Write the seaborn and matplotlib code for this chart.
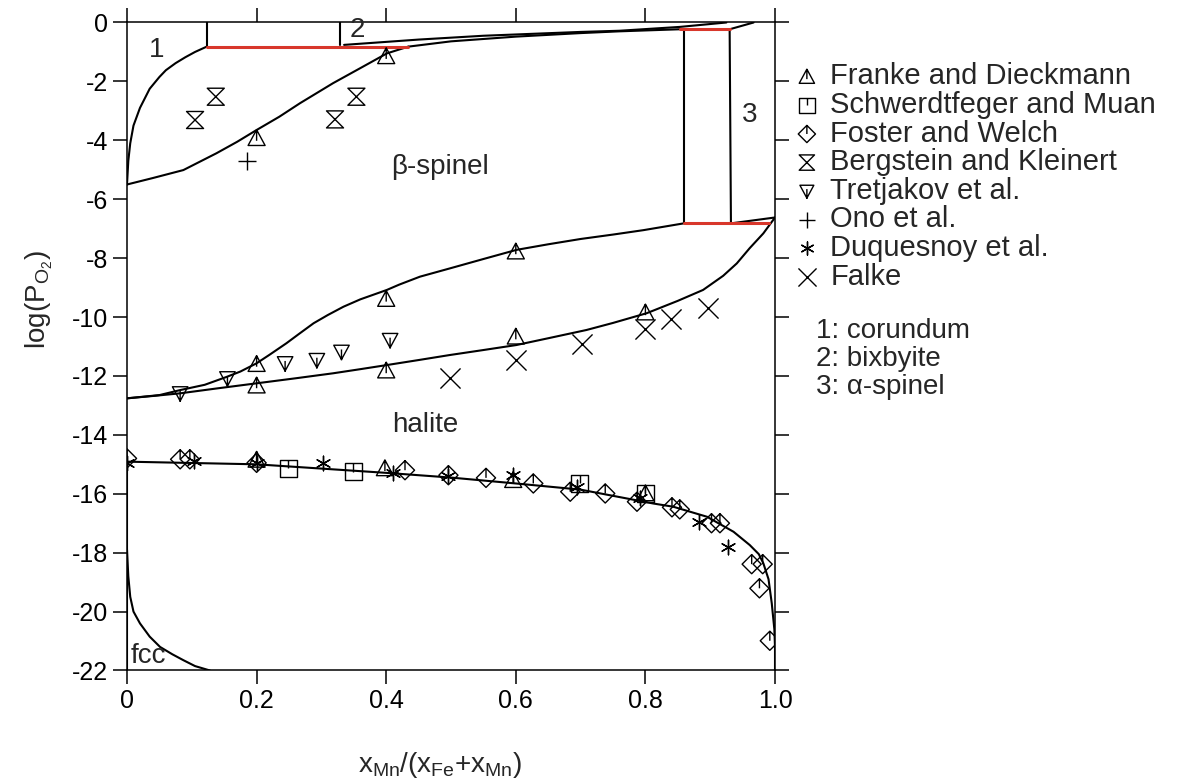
import matplotlib
matplotlib.use("Agg")
import matplotlib.pyplot as plt
import seaborn as sns
from matplotlib.path import Path

# ---- phase boundaries ----
# corundum / corundum+spinel boundary
cor_x = [0.0, 0.002, 0.005, 0.01, 0.02, 0.035, 0.05, 0.06, 0.075, 0.09, 0.105, 0.123]
cor_y = [-5.5, -4.7, -4.1, -3.5, -2.9, -2.25, -1.85, -1.62, -1.38, -1.18, -1.0, -0.82]
# spinel upper limit (low x part)
sp_lo_x = [0.0, 0.04, 0.087, 0.138, 0.17, 0.2, 0.235, 0.267, 0.318, 0.36, 0.401, 0.434]
sp_lo_y = [-5.5, -5.28, -5.01, -4.44, -4.05, -3.65, -3.2, -2.74, -2.06, -1.55, -1.05, -0.82]
# spinel upper limit (high x part)
sp_hi_x = [0.434, 0.5, 0.6, 0.7, 0.76, 0.853]
sp_hi_y = [-0.82, -0.64, -0.48, -0.36, -0.30, -0.23]
# bixbyite lower limit
bix_x = [0.335, 0.45, 0.55, 0.7, 0.76, 0.853, 0.925]
bix_y = [-0.76, -0.58, -0.45, -0.32, -0.28, -0.15, 0.0]
# small vertical / connecting lines
v1_x, v1_y = [0.123, 0.123], [-0.82, 0.0]
v2_x, v2_y = [0.329, 0.329], [0.0, -0.76]
v3_x, v3_y = [0.859, 0.859], [-0.23, -6.82]
v4_x, v4_y = [0.930, 0.932], [-0.23, -6.82]
c1_x, c1_y = [0.930, 0.967], [-0.23, 0.0]
c2_x, c2_y = [0.932, 1.0], [-6.82, -6.62]
# red three-phase tie lines
red1_x, red1_y = [0.123, 0.434], [-0.82, -0.82]
red2_x, red2_y = [0.853, 0.930], [-0.23, -0.23]
red3_x, red3_y = [0.859, 0.99], [-6.82, -6.82]
# spinel + halite two-phase region
up_x = [0.0, 0.05, 0.082, 0.12, 0.154, 0.175, 0.2, 0.22, 0.246, 0.265, 0.288, 0.31, 0.334, 0.36,
        0.401, 0.42, 0.452, 0.498, 0.55, 0.601, 0.65, 0.70, 0.75, 0.797, 0.859]
up_y = [-12.76, -12.65, -12.48, -12.3, -12.03, -11.85, -11.57, -11.28, -10.89, -10.58, -10.21, -9.93,
        -9.65, -9.4, -9.08, -8.9, -8.63, -8.35, -8.03, -7.72, -7.53, -7.35, -7.2, -7.05, -6.82]
lo_x = [1.0, 0.982, 0.961, 0.941, 0.92, 0.889, 0.85, 0.802, 0.75, 0.709, 0.65, 0.601, 0.55, 0.498,
        0.45, 0.401, 0.36, 0.318, 0.26, 0.2, 0.14, 0.082, 0.04, 0.0]
lo_y = [-6.62, -7.16, -7.66, -8.18, -8.6, -9.08, -9.45, -9.87, -10.2, -10.44, -10.72, -10.95, -11.12,
        -11.29, -11.46, -11.63, -11.77, -11.91, -12.08, -12.25, -12.42, -12.59, -12.68, -12.76]
# halite lower limit
hal_x = [0.0, 0.0, 0.2, 0.4, 0.5, 0.6, 0.7, 0.812, 0.843, 0.895, 0.936, 0.961, 0.975, 0.982,
         0.99, 0.995, 0.999, 1.0, 1.0]
hal_y = [-22.0, -14.91, -15.0, -15.29, -15.45, -15.65, -15.86, -16.33, -16.44, -16.78, -17.29,
         -17.74, -18.05, -18.36, -18.9, -19.72, -20.6, -21.2, -22.0]
# fcc limit
fcc_x = [0.0, 0.002, 0.005, 0.01, 0.02, 0.035, 0.051, 0.07, 0.087, 0.105, 0.128]
fcc_y = [-17.9, -18.8, -19.5, -20.0, -20.4, -20.85, -21.2, -21.45, -21.65, -21.85, -22.0]

# ---- experimental points ----
franke_x = [0.4, 0.2, 0.4, 0.2, 0.2, 0.4, 0.6, 0.6, 0.8, 0.2, 0.398, 0.596, 0.8]
franke_y = [-1.15, -3.93, -9.39, -11.6, -12.33, -11.82, -7.78, -10.67, -9.85, -14.85, -15.14, -15.54, -15.99]
schw_x = [0.249, 0.349, 0.699, 0.8]
schw_y = [-15.14, -15.25, -15.65, -15.99]
foster_x = [0.0, 0.082, 0.097, 0.2, 0.429, 0.496, 0.554, 0.627, 0.684, 0.738, 0.787,
            0.841, 0.853, 0.902, 0.915, 0.964, 0.981, 0.976, 0.992]
foster_y = [-14.8, -14.83, -14.83, -14.95, -15.2, -15.37, -15.46, -15.65, -15.93, -15.99, -16.27,
            -16.46, -16.53, -17.0, -17.0, -18.39, -18.39, -19.21, -20.99]
berg_x = [0.105, 0.137, 0.321, 0.354]
berg_y = [-3.31, -2.52, -3.29, -2.52]
tret_x = [0.082, 0.155, 0.244, 0.293, 0.331, 0.406]
tret_y = [-12.59, -12.08, -11.57, -11.46, -11.18, -10.78]
ono_x = [0.185]
ono_y = [-4.70]
duq_x = [0.0, 0.104, 0.2, 0.303, 0.41, 0.496, 0.596, 0.694, 0.792, 0.882, 0.928]
duq_y = [-14.95, -14.88, -14.95, -14.97, -15.31, -15.4, -15.37, -15.76, -16.16, -16.95, -17.8]
falke_x = [0.498, 0.6, 0.702, 0.8, 0.839, 0.897]
falke_y = [-12.08, -11.46, -10.92, -10.42, -10.08, -9.71]

xticks = [0, 0.2, 0.4, 0.6, 0.8, 1.0]
xticklabels = ["0", "0.2", "0.4", "0.6", "0.8", "1.0"]
yticks = list(range(0, -23, -2))
yticklabels = [str(v) for v in yticks]
phase_notes = ["1: corundum", "2: bixbyite", "3: α-spinel"]

sns.set_style("ticks")
plt.rcParams["font.family"] = ["Liberation Sans", "DejaVu Sans"]
plt.rcParams["mathtext.fontset"] = "custom"
plt.rcParams["mathtext.rm"] = "Liberation Sans"
plt.rcParams["mathtext.it"] = "Liberation Sans:italic"

# marker shapes with the little inner stroke used in the original
M, L, C = Path.MOVETO, Path.LINETO, Path.CLOSEPOLY
tri = Path([(-1, -0.85), (1, -0.85), (0, 1), (-1, -0.85), (0, 1), (0, -0.3)], [M, L, L, C, M, L])
tri_dn = Path([(-1, 0.85), (1, 0.85), (0, -1), (-1, 0.85), (0, 0.3), (0, -1.1)], [M, L, L, C, M, L])
sq = Path([(-1, -1), (1, -1), (1, 1), (-1, 1), (-1, -1), (0, 1), (0, 0)], [M, L, L, L, C, M, L])
dia = Path([(0, 1), (1, 0), (0, -1), (-1, 0), (0, 1), (0, 1), (0, 0)], [M, L, L, L, C, M, L])
hour = Path([(-1, 1), (1, 1), (-1, -1), (1, -1), (-1, 1)], [M, L, L, L, C])

fig = plt.figure(figsize=(11.79, 7.81), dpi=100)
ax = fig.add_axes([0.10772, 0.14149, 0.54962, 0.82971])

black = [(cor_x, cor_y), (sp_lo_x, sp_lo_y), (sp_hi_x, sp_hi_y), (bix_x, bix_y),
         (v1_x, v1_y), (v2_x, v2_y), (v3_x, v3_y), (v4_x, v4_y), (c1_x, c1_y), (c2_x, c2_y),
         (up_x, up_y), (lo_x, lo_y), (hal_x, hal_y), (fcc_x, fcc_y)]
for xs, ys in black:
    sns.lineplot(x=xs, y=ys, sort=False, estimator=None, color="k", lw=1.5, ax=ax)
for xs, ys in [(red1_x, red1_y), (red2_x, red2_y), (red3_x, red3_y)]:
    sns.lineplot(x=xs, y=ys, sort=False, estimator=None, color="#d8372b", lw=2.2, ax=ax)

open_kw = dict(facecolor="none", edgecolor="k", linewidth=1.0, ax=ax, zorder=3)
line_kw = dict(color="k", linewidth=1.0, ax=ax, zorder=3)
sns.scatterplot(x=franke_x, y=franke_y, marker=tri, s=150, label="Franke and Dieckmann", **open_kw)
sns.scatterplot(x=schw_x, y=schw_y, marker=sq, s=150, label="Schwerdtfeger and Muan", **open_kw)
sns.scatterplot(x=foster_x, y=foster_y, marker=dia, s=190, label="Foster and Welch", **open_kw)
sns.scatterplot(x=berg_x, y=berg_y, marker=hour, s=150, label="Bergstein and Kleinert", **open_kw)
sns.scatterplot(x=tret_x, y=tret_y, marker=tri_dn, s=150, label="Tretjakov et al.", **open_kw)
sns.scatterplot(x=ono_x, y=ono_y, marker="+", s=170, label="Ono et al.", **line_kw)
sns.scatterplot(x=duq_x, y=duq_y, marker=(6, 2, 0), s=110, label="Duquesnoy et al.", **line_kw)
sns.scatterplot(x=falke_x, y=falke_y, marker="x", s=210, label="Falke", **line_kw)

ax.set_xlim(0, 1)
ax.set_ylim(-22, 0)
ax.set_xticks(xticks)
ax.set_xticklabels(xticklabels)
ax.set_yticks(yticks)
ax.set_yticklabels(yticklabels)
ax.tick_params(direction="out", length=10, width=1.1, top=True, right=True, bottom=True, left=True,
               labeltop=False, labelright=False, labelsize=18, colors="k")
for sp in ax.spines.values():
    sp.set_visible(True)
    sp.set_linewidth(1.1)
    sp.set_color("k")

ax.set_xlabel(r"x$_{\mathrm{Mn}}$/(x$_{\mathrm{Fe}}$+x$_{\mathrm{Mn}}$)", fontsize=20)
ax.set_ylabel(r"log(P$_{\mathrm{O}_2}$)", fontsize=20)
ax.xaxis.set_label_coords(0.483, -0.122)
ax.yaxis.set_label_coords(-0.111, 0.572)

# region labels
ax.text(0.046, -0.93, "1", fontsize=20, ha="center", va="center")
ax.text(0.355, -0.25, "2", fontsize=20, ha="center", va="center")
ax.text(0.961, -3.14, "3", fontsize=20, ha="center", va="center")
ax.text(0.483, -4.9, "β-spinel", fontsize=20, ha="center", va="center")
ax.text(0.46, -13.67, "halite", fontsize=20, ha="center", va="center")
ax.text(0.005, -21.5, "fcc", fontsize=20, ha="left", va="center")

ax.legend(loc="upper left", bbox_to_anchor=(0.672, 0.92), bbox_transform=fig.transFigure,
          frameon=False, fontsize=21, markerscale=0.9, handlelength=1.0, handletextpad=0.3,
          labelspacing=0.02, borderpad=0, borderaxespad=0)

for i, t in enumerate(phase_notes):
    fig.text(816 / 1179, 1 - (331 + 28 * i) / 781, t, fontsize=20, ha="left", va="center")

fig.savefig("out.png", dpi=100)
